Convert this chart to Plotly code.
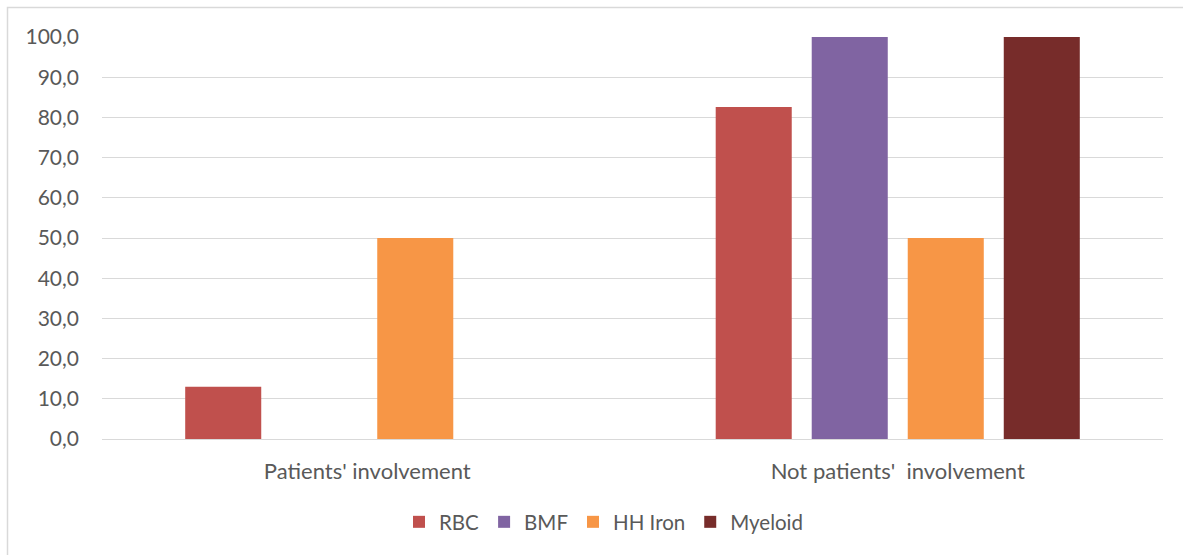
import plotly.graph_objects as go

# Share of items per category, by data group
categories = ["Patients' involvement", "Not patients'  involvement"]
series_names = ["RBC", "BMF", "HH Iron", "Myeloid"]
rbc = [13.0, 82.6]
bmf = [0.0, 100.0]
hh_iron = [50.0, 50.0]
myeloid = [0.0, 100.0]
y_ticks = [0, 10, 20, 30, 40, 50, 60, 70, 80, 90, 100]

colors = ["#C0504D", "#8064A2", "#F79646", "#772C2A"]
values = [rbc, bmf, hh_iron, myeloid]

W, H = 1183, 555
ML, MR, MT, MB = 102, 20, 37, 116
FONT = "Lato"
TXT = "#595959"
GRID = "#D9D9D9"

fig = go.Figure()
for name, vals, col in zip(series_names, values, colors):
    fig.add_trace(go.Bar(name=name, x=categories, y=vals, marker=dict(color=col, line=dict(width=0))))

pw = W - ML - MR
ph = H - MT - MB

fig.update_layout(
    width=W, height=H,
    margin=dict(l=ML, r=MR, t=MT, b=MB, pad=0),
    paper_bgcolor="white", plot_bgcolor="white",
    barmode="group", bargap=0.276, bargroupgap=0.208,
    separators=",.",
    font=dict(family=FONT, size=21, color=TXT),
    showlegend=True,
    legend=dict(orientation="h", x=(604 - ML) / pw, xanchor="center", y=-(522 - (MT + ph)) / ph, yanchor="middle",
                font=dict(family=FONT, size=20.5, color=TXT), itemwidth=30, tracegroupgap=0),
    xaxis=dict(showgrid=False, showline=False, ticks="", ticklabelstandoff=17,
               tickfont=dict(family=FONT, size=22, color=TXT)),
    yaxis=dict(range=[0, 100], tickvals=y_ticks, tickformat=".1f", showgrid=True, gridcolor=GRID,
               gridwidth=1, zeroline=True, zerolinecolor=GRID, zerolinewidth=1, showline=False,
               ticks="", ticklabelstandoff=22, tickfont=dict(family=FONT, size=21, color=TXT)),
    shapes=[
        dict(type="rect", xref="paper", yref="paper",
             x0=(7.5 - ML) / pw, x1=(W + 10 - ML) / pw,
             y0=-(H + 10 - MT - ph) / ph, y1=(MT - 7.5) / ph + 1,
             line=dict(color=GRID, width=1.5), fillcolor="rgba(0,0,0,0)", layer="below"),
    ],
)

fig.write_html("out.html")
